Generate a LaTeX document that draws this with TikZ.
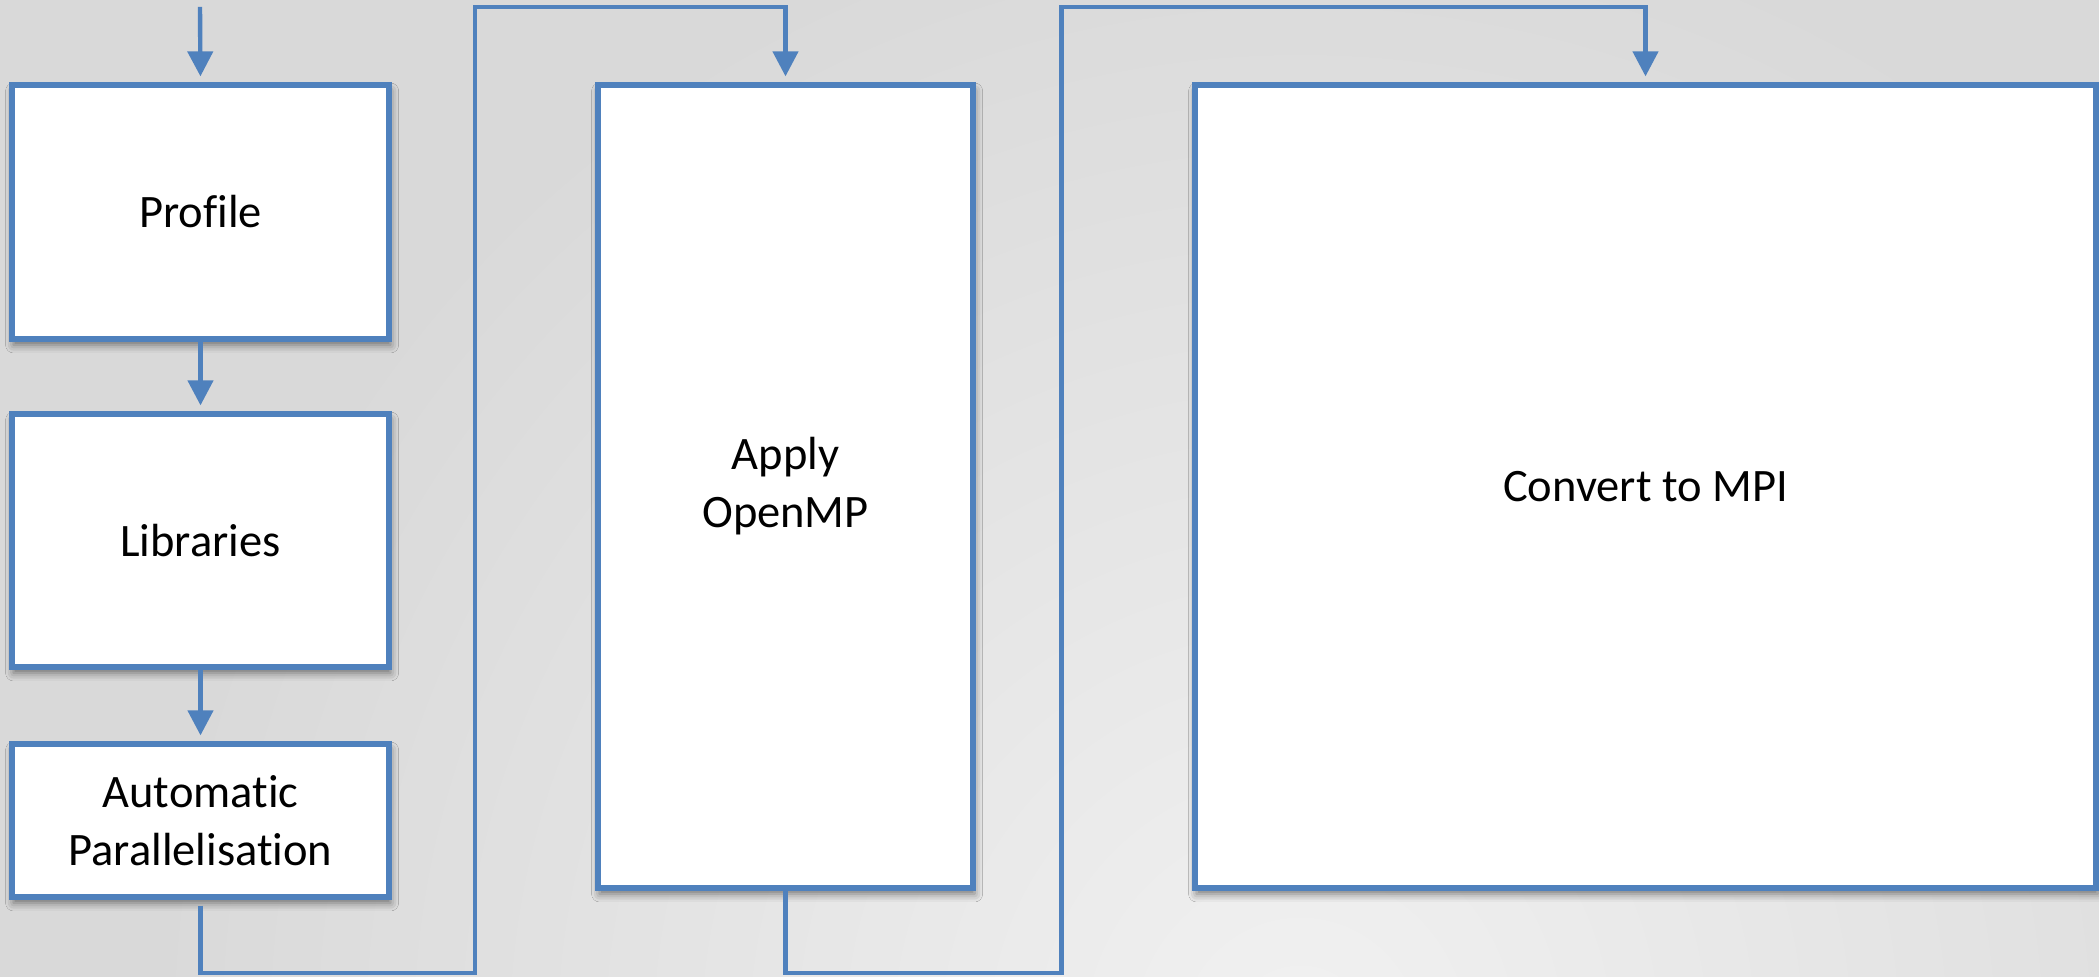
\documentclass[tikz,border=0pt]{standalone}
\usepackage{fontspec}
\setmainfont{Carlito}[Ligatures=NoCommon]
\usetikzlibrary{arrows.meta,shadows.blur}

\definecolor{flowblue}{RGB}{79,129,189}
\definecolor{bgdark}{RGB}{217,217,217}
\definecolor{bglight}{RGB}{241,241,241}

\begin{document}
\begin{tikzpicture}[
  x=0.5pt, y=0.5pt,
  stagebox/.style={
    draw=flowblue, line width=2.6pt, fill=white, inner sep=0pt,
    align=center, font=\fontsize{23.25pt}{29pt}\selectfont,
    blur shadow={shadow xshift=0.8pt, shadow yshift=-3pt,
                 shadow blur radius=4pt, shadow opacity=50}},
  flow/.style={
    draw=flowblue, line width=2.2pt, line join=miter,
    -{Triangle[width=12.5pt,length=12.5pt]}, shorten >=3pt}
]
  % canvas and soft radial background
  \useasboundingbox (0,0) rectangle (2099,977);
  \fill[bgdark] (0,0) rectangle (2099,977);
  \begin{scope}
    \clip (0,0) rectangle (2099,977);
    \shade[inner color=bglight, outer color=bgdark] (1300,-60) circle (1150);
  \end{scope}

  % stages
  \node[stagebox, minimum width=188.5pt, minimum height=127pt]   (profile) at (200.5,765)   {Profile};
  \node[stagebox, minimum width=188.5pt, minimum height=126.5pt] (libs)    at (200.5,436.5) {Libraries};
  \node[stagebox, minimum width=188.5pt, minimum height=76.5pt]  (autop)   at (200.5,156.5) {Automatic\\Parallelisation};
  \node[stagebox, minimum width=187.5pt, minimum height=401.5pt] (omp)     at (785.5,490.5) {Apply\\OpenMP};
  \node[stagebox, minimum width=450.5pt, minimum height=401.5pt] (mpi)     at (1645.5,490.5) {Convert to MPI};

  % routing helpers
  \coordinate (entry)  at (200,970);
  \coordinate (low)    at (0,4);
  \coordinate (high)   at (0,970);
  \coordinate (riserA) at (475,0);
  \coordinate (riserB) at (1061.5,0);

  % connectors
  \draw[flow] (entry) -- (profile.north);
  \draw[flow] (profile.south) -- (libs.north);
  \draw[flow] (libs.south) -- (autop.north);
  \draw[flow, shorten <=3pt] (autop.south) -- (autop.south |- low)
      -| (riserA |- high) -| (omp.north);
  \draw[flow] (omp.south) -- (omp.south |- low)
      -| (riserB |- high) -| (mpi.north);
\end{tikzpicture}
\end{document}
